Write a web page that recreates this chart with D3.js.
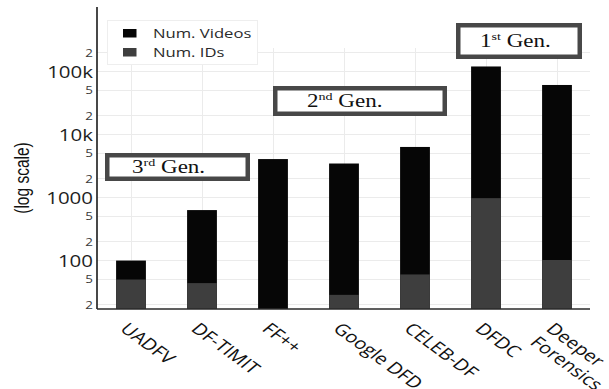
<!DOCTYPE html>
<html><head><meta charset="utf-8">
<script src="https://cdn.jsdelivr.net/npm/d3@7/dist/d3.min.js"></script>
<style>
html,body{margin:0;padding:0;background:#fff;}
svg{display:block;}
</style></head>
<body><svg id="c" width="609" height="389"></svg>
<script>
// ---- data ----
const categories = ["UADFV","DF-TIMIT","FF++","Google DFD","CELEB-DF","DFDC","Deeper Forensics"];
const categoryLines = [["UADFV"],["DF-TIMIT"],["FF++"],["Google DFD"],["CELEB-DF"],["DFDC"],["Deeper","Forensics"]];
const numVideos = [98, 620, 4000, 3400, 6229, 118000, 60000];
const numIDs = [49, 43, null, 28, 59, 960, 100];
const yTickValues = [20,50,100,200,500,1000,2000,5000,10000,20000,50000,100000,200000];
const yTickLabels = ["2","5","100","2","5","1000","2","5","10k","2","5","100k","2"];
const seriesNames = ["Num. Videos","Num. IDs"];
const seriesColors = ["#060606","#3e3e3e"];
const genLabels = [["3","rd"," Gen."],["2","nd"," Gen."],["1","st"," Gen."]];

// ---- layout ----
const SX = 1.28; // horizontal stretch of the reference image
const L = 97, R = 590, T = 7, B = 309, gridTop = 48;
const svg = d3.select("#c");

const x = d3.scaleBand().domain(categories).range([95.5, 592.5]).paddingInner(0.58).paddingOuter(0.29);
const y = d3.scaleLog().domain([Math.pow(10, 2 - 49/63), Math.pow(10, 5 + 64/63)]).range([B, T]);

// gridlines
const grid = svg.append("g");
grid.selectAll("line.h").data(yTickValues).join("line")
  .attr("x1", L).attr("x2", R).attr("y1", d => Math.round(y(d))+0.5).attr("y2", d => Math.round(y(d))+0.5)
  .attr("stroke", "#ebebeb").attr("stroke-width", 1);
grid.selectAll("line.v").data(categories).join("line")
  .attr("x1", d => Math.round(x(d) + x.bandwidth()/2)+0.5).attr("x2", d => Math.round(x(d) + x.bandwidth()/2)+0.5)
  .attr("y1", gridTop).attr("y2", B)
  .attr("stroke", "#ebebeb").attr("stroke-width", 1);

// bars
svg.append("g").selectAll("rect").data(categories).join("rect")
  .attr("x", d => x(d)).attr("width", x.bandwidth())
  .attr("y", (d,i) => y(numVideos[i])).attr("height", (d,i) => B - y(numVideos[i]))
  .attr("fill", seriesColors[0]);
svg.append("g").selectAll("rect").data(categories.filter((d,i) => numIDs[i] != null)).join("rect")
  .attr("x", d => x(d)).attr("width", x.bandwidth())
  .attr("y", d => y(numIDs[categories.indexOf(d)]))
  .attr("height", d => B - y(numIDs[categories.indexOf(d)]))
  .attr("fill", seriesColors[1]);

// y axis
const yAxis = svg.append("g").attr("transform", `translate(${L},0)`)
  .call(d3.axisLeft(y).tickValues(yTickValues).tickFormat((d,i) => yTickLabels[i]).tickSize(0));
yAxis.select(".domain").remove();
yAxis.append("line").attr("x1", 0).attr("x2", 0).attr("y1", T).attr("y2", B)
  .attr("stroke", "#1a1a1a").attr("stroke-width", 1.6);
yAxis.selectAll(".tick text").each(function(d, i) {
  const big = yTickLabels[i].length > 1;
  d3.select(this).attr("x", null).attr("dy", null)
    .attr("transform", `translate(-4,${big ? 6 : 4}) scale(${SX},1)`)
    .attr("text-anchor", "end")
    .attr("font-family", "'Open Sans', sans-serif")
    .attr("font-size", big ? 16 : 10.5)
    .attr("fill", big ? "#1e1e1e" : "#3a3a3a");
});

// x axis
const xAxis = svg.append("g").attr("transform", `translate(0,${B})`)
  .call(d3.axisBottom(x).tickSize(0).tickFormat(""));
xAxis.select(".domain").remove();
xAxis.append("line").attr("x1", L).attr("x2", R).attr("y1", 0).attr("y2", 0)
  .attr("stroke", "#2a2a2a").attr("stroke-width", 1.6);
xAxis.selectAll(".tick").each(function(d, i) {
  const t = d3.select(this).append("text")
    .attr("transform", `translate(-12,21) scale(${SX},1) rotate(43)`)
    .attr("text-anchor", "start")
    .attr("font-family", "'Open Sans', sans-serif")
    .attr("font-size", 16).attr("fill", "#111");
  categoryLines[i].forEach((ln, k) => {
    t.append("tspan").attr("x", 0).attr("dy", k === 0 ? 0 : "1.15em").text(ln);
  });
});

// y title
svg.append("text")
  .attr("transform", `translate(22,178) scale(${SX},1) rotate(-90)`)
  .attr("text-anchor", "middle").attr("dy", "0.35em")
  .attr("font-family", "'Liberation Sans', Arial, sans-serif").attr("font-size", 15.5)
  .attr("fill", "#111").text("(log scale)");

// legend
const lg = svg.append("g");
lg.append("rect").attr("x", 107.5).attr("y", 20.5).attr("width", 150).attr("height", 44)
  .attr("fill", "#fff").attr("stroke", "#eeeeee").attr("stroke-width", 1);
seriesNames.forEach((nm, i) => {
  const yy = 29 + i * 19;
  lg.append("rect").attr("x", 123).attr("y", yy).attr("width", 13.5).attr("height", 8.5).attr("fill", seriesColors[i]);
  lg.append("text").attr("transform", `translate(153,${yy + 8.5}) scale(${SX},1)`)
    .attr("font-family", "'Open Sans', sans-serif").attr("font-size", 13).attr("fill", "#2a2a2a").text(nm);
});

// generation annotation boxes
const genBoxes = [
  {x0:105, x1:250, y0:153, y1:181, tx:132, ty:173},
  {x0:273, x1:447, y0:86,  y1:116, tx:307, ty:107},
  {x0:456, x1:582, y0:23,  y1:59,  tx:480, ty:47}
];
const sw = 4.5;
genBoxes.forEach((b, i) => {
  svg.append("rect").attr("x", b.x0 + sw/2).attr("y", b.y0 + sw/2)
    .attr("width", b.x1 - b.x0 - sw).attr("height", b.y1 - b.y0 - sw)
    .attr("fill", "#fff").attr("stroke", "#484848").attr("stroke-width", sw);
  const t = svg.append("text").attr("transform", `translate(${b.tx},${b.ty}) scale(${SX},1)`)
    .attr("font-family", "'Liberation Serif', 'Times New Roman', serif").attr("font-size", 18).attr("fill", "#111");
  t.append("tspan").text(genLabels[i][0]);
  t.append("tspan").attr("font-size", 11).attr("dy", -7).text(genLabels[i][1]);
  t.append("tspan").attr("dy", 7).text(genLabels[i][2]);
});
</script></body></html>
